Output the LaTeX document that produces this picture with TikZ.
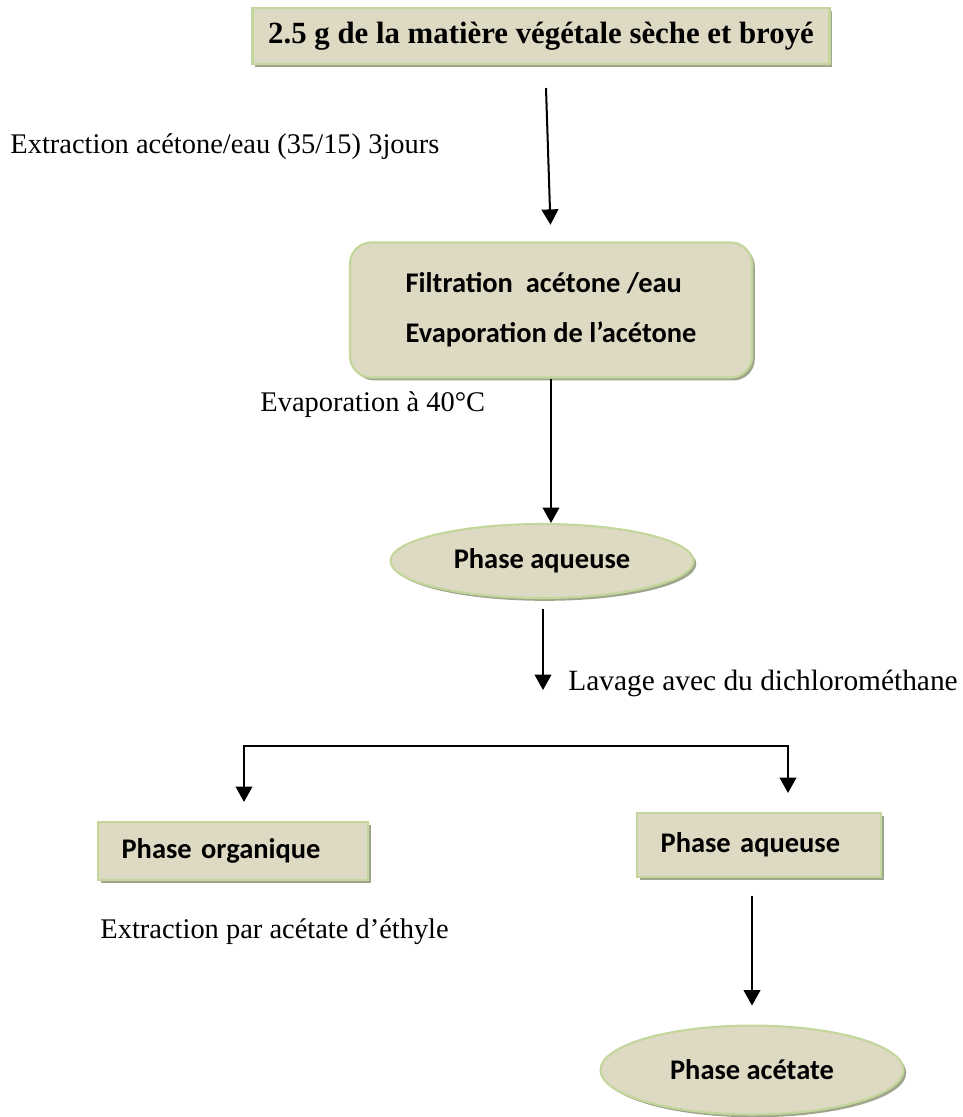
\documentclass[tikz,border=0pt]{standalone}
\usepackage{fontspec}
\setmainfont{Liberation Serif}
\newfontfamily\calibri{Carlito}
\usetikzlibrary{arrows.meta,shapes.geometric,shadows}
\definecolor{boxfill}{HTML}{DDD9C3}
\definecolor{boxline}{HTML}{C3D69B}
\definecolor{boxshadow}{HTML}{9FA68B}
\begin{document}
\begin{tikzpicture}[x=0.4219pt,y=-0.4219pt,
    >={Triangle[length=6.5pt,width=7pt]},
    etape/.style={draw=boxline,fill=boxfill,line width=0.9pt,
      drop shadow={shadow xshift=1.2pt,shadow yshift=-1.2pt,fill=boxshadow,opacity=1}},
    boite/.style={etape,rectangle,font=\calibri\bfseries\fontsize{12}{14}\selectfont},
    ovale/.style={etape,ellipse,inner sep=0pt,font=\calibri\bfseries\fontsize{12}{14}\selectfont},
    fleche/.style={->,line width=0.85pt},
    legende/.style={anchor=west,inner sep=0pt,font=\fontsize{12}{14}\selectfont}]
\useasboundingbox (0,0) rectangle (962,1117);
% matiere vegetale
\node[boite,font=\bfseries\fontsize{13}{15}\selectfont,minimum width=243.4pt,minimum height=23.6pt] (vege) at (541,36) {2.5 g de la matière végétale sèche et broyé};
\coordinate (depart) at (546,88);
\node[legende] (extr) at (10,147) {Extraction acétone/eau (35/15) 3jours};
\node[boite,rounded corners=9pt,minimum width=169.6pt,minimum height=57pt,align=left,
      font=\calibri\bfseries\fontsize{12}{21}\selectfont] (filt) at (551,310)
      {Filtration\ \ acétone /eau\\Evaporation de l’acétone};
\draw[fleche,shorten >=7pt] (depart) -- (filt.north);
% phase aqueuse
\node[legende] (evap) at (260,405) {Evaporation à 40°C};
\node[ovale,minimum width=127.8pt,minimum height=31.2pt] (ell1) at (542,561) {Phase aqueuse};
\draw[fleche] (filt.south) -- (filt.south |- ell1.north);
\coordinate (lav) at (543,690);
\draw[fleche,shorten <=4pt] (ell1.south -| lav) -- (lav);
\node[legende,font=\fontsize{12.4}{14}\selectfont] (lavage) at (568,683) {Lavage avec du dichlorométhane};
% separation
\coordinate (gauche) at (244,746);
\coordinate (droite) at (788,746);
\node[boite,text width=94pt,inner xsep=10pt,minimum height=24.5pt] (org) at (233,851) {Phase organique};
\node[boite,text width=83pt,inner xsep=10pt,minimum height=27pt] (aq2) at (759,845) {Phase aqueuse};
\draw[fleche,shorten >=8pt] (droite) -- (gauche) -- (gauche |- org.north);
\draw[fleche,shorten >=8pt] (gauche) -- (droite) -- (droite |- aq2.north);
% phase acetate
\node[legende] (acet) at (100,932) {Extraction par acétate d’éthyle};
\node[ovale,minimum width=127.8pt,minimum height=37.5pt] (ell2) at (752,1070) {Phase acétate\hspace{15pt}};
\draw[fleche,shorten <=7.5pt,shorten >=8pt] (ell2.north |- aq2.south) -- (ell2.north);
\end{tikzpicture}
\end{document}
